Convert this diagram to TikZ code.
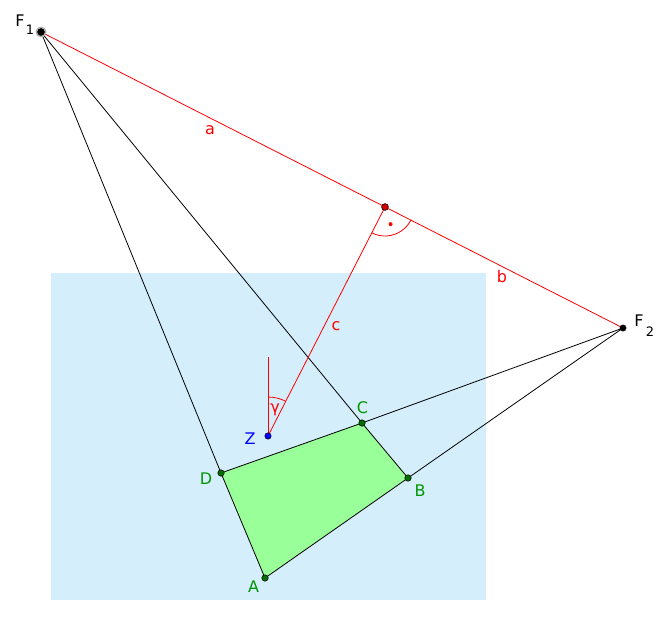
\documentclass[tikz,border=0pt]{standalone}
\usepackage{fontspec}
\setmainfont{DejaVu Sans}
\definecolor{bgblue}{RGB}{212,238,252}
\definecolor{quadgreen}{RGB}{153,255,153}
\definecolor{ptgreen}{RGB}{0,110,0}
\definecolor{lblgreen}{RGB}{0,150,0}
\begin{document}
\begin{tikzpicture}[x=1pt,y=-1pt,
  lbl/.style={inner sep=0pt,anchor=base,font=\fontsize{16}{19}\selectfont},
  gpt/.style={circle,fill=ptgreen,draw=black,line width=0.5pt,inner sep=0pt,minimum size=6.5pt},
  blk/.style={draw=black,line width=0.8pt},
  rd/.style={draw=red,line width=0.8pt}]
\useasboundingbox (0,0) rectangle (666,629);
\fill[bgblue] (51,273) rectangle (486,600);
% coordinates
\coordinate (F1) at (41,32);
\coordinate (F2) at (623,328);
\coordinate (H) at (385,207);
\coordinate (Z) at (268,436);
\coordinate (V) at (268,357);
\coordinate (A) at (265,578);
\coordinate (B) at (408,478);
\coordinate (C) at (362,423);
\coordinate (D) at (221,473);
% quad
\filldraw[fill=quadgreen,blk] (A) -- (B) -- (C) -- (D) -- cycle;
% black lines
\draw[blk] (F1) -- (D);
\draw[blk] (F1) -- (C);
\draw[blk] (F2) -- (C);
\draw[blk] (F2) -- (B);
% red lines
\draw[rd] (F1) -- (F2);
\draw[rd] (H) -- (Z);
\draw[rd] (Z) -- (V);
% right angle mark
\draw[rd] ([shift={(26.95:29)}]H) arc[start angle=26.95,end angle=117.06,radius=29];
\fill[red] ([shift={(72:18)}]H) circle (2pt);
% gamma arc
\draw[rd] ([shift={(-90:39)}]Z) arc[start angle=-90,end angle=-62.94,radius=39];
% points
\fill[gray!60] (F1) circle (5.5pt);
\filldraw[fill=black,draw=black] (F1) circle (3.5pt);
\filldraw[fill=black,draw=black] (F2) circle (3.2pt);
\filldraw[fill=red!85!black,draw=black,line width=0.6pt] (H) circle (3.4pt);
\filldraw[fill=blue,draw=black,line width=0.5pt] (Z) circle (3.2pt);
\node[gpt] (pA) at (A) {};
\node[gpt] (pB) at (B) {};
\node[gpt] (pC) at (C) {};
\node[gpt] (pD) at (D) {};
% labels
\node[lbl] (lF1) at (20,27) {F};
\node[lbl,font=\fontsize{13}{15}\selectfont] (lF1s) at (30,34) {1};
\node[lbl] (lF2) at (639,326) {F};
\node[lbl,font=\fontsize{13}{15}\selectfont] (lF2s) at (650,336) {2};
\node[lbl,red] (la) at (210,134) {a};
\node[lbl,red] (lb) at (502,282) {b};
\node[lbl,red] (lc) at (336,330) {c};
\node[lbl,red] (lg) at (275,412) {γ};
\node[lbl,blue] (lZ) at (250,444) {Z};
\node[lbl,lblgreen] (lC) at (362.5,413) {C};
\node[lbl,lblgreen] (lD) at (206,484) {D};
\node[lbl,lblgreen] (lB) at (420,496.5) {B};
\node[lbl,lblgreen] (lA) at (253.5,592) {A};
\end{tikzpicture}
\end{document}
